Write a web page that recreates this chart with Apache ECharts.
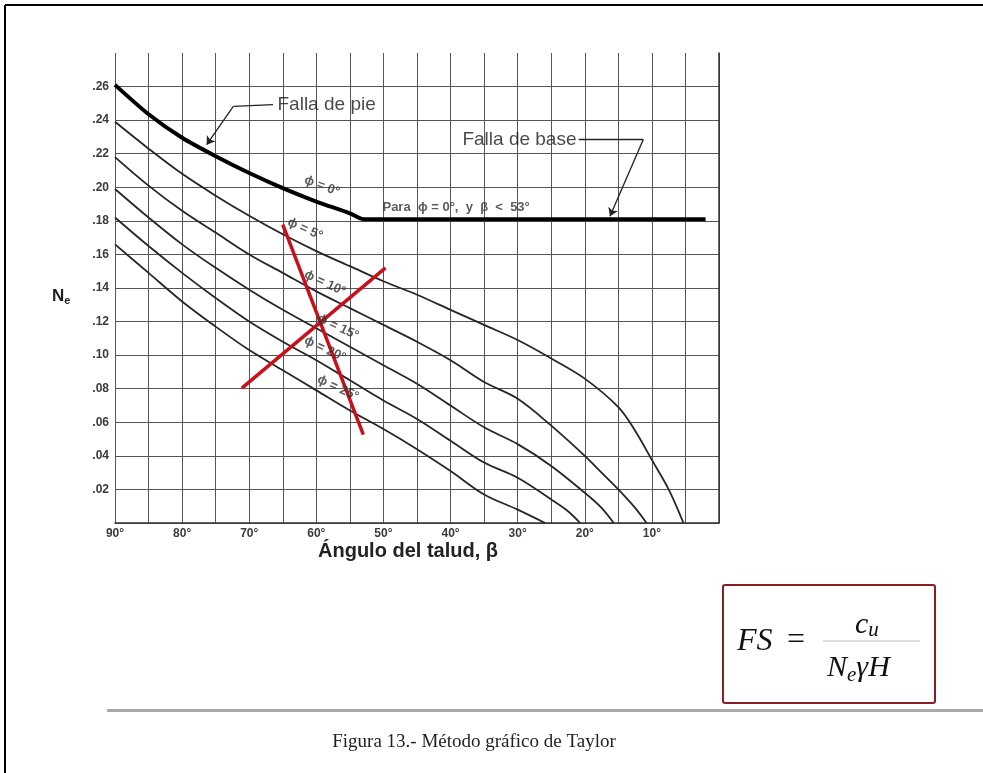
<!DOCTYPE html>
<html>
<head>
<meta charset="utf-8">
<script src="https://cdn.jsdelivr.net/npm/echarts@6/dist/echarts.min.js"></script>
<style>
html,body{margin:0;padding:0;background:#fff;}
#c{width:983px;height:773px;}
</style>
</head>
<body>
<div id="c"></div>
<script>
// ---- Data (β in degrees, N_e stability number) ----
const betaPhi0 = [90, 85, 80, 75, 70, 65, 60, 55, 53, 50, 30, 15, 2];
const nPhi0    = [0.261, 0.2435, 0.2295, 0.2185, 0.2085, 0.1995, 0.1915, 0.1845, 0.181, 0.181, 0.181, 0.181, 0.181];

const betaPhi5 = [90, 85, 80, 75, 70, 65, 60, 55, 50, 45, 40, 35, 30, 25, 20, 15, 12.5, 10, 7.5, 5.3];
const nPhi5    = [0.239, 0.223, 0.208, 0.195, 0.183, 0.172, 0.162, 0.153, 0.144, 0.136, 0.127, 0.118, 0.109, 0.098, 0.086, 0.069, 0.055, 0.0376, 0.020, 0];

const betaPhi10 = [90, 85, 80, 75, 70, 65, 60, 55, 50, 45, 40, 35, 30, 25, 20, 17.5, 15, 12.5, 10.8];
const nPhi10    = [0.218, 0.201, 0.186, 0.173, 0.160, 0.149, 0.138, 0.128, 0.118, 0.108, 0.097, 0.084, 0.074, 0.058, 0.040, 0.030, 0.020, 0.009, 0];

const betaPhi15 = [90, 85, 80, 75, 70, 65, 60, 55, 50, 45, 40, 35, 30, 25, 20, 17.5, 15.7];
const nPhi15    = [0.199, 0.182, 0.166, 0.152, 0.139, 0.127, 0.116, 0.105, 0.094, 0.083, 0.070, 0.057, 0.047, 0.034, 0.018, 0.009, 0];

const betaPhi20 = [90, 85, 80, 75, 70, 65, 60, 55, 50, 45, 40, 35, 30, 25, 22.5, 20.7];
const nPhi20    = [0.182, 0.165, 0.149, 0.134, 0.120, 0.108, 0.097, 0.085, 0.073, 0.062, 0.049, 0.036, 0.027, 0.014, 0.007, 0];

const betaPhi25 = [90, 85, 80, 75, 70, 65, 60, 55, 50, 45, 40, 35, 30, 25.9];
const nPhi25    = [0.166, 0.149, 0.132, 0.117, 0.103, 0.091, 0.079, 0.067, 0.056, 0.044, 0.031, 0.017, 0.008, 0];

// red construction lines
const redDescBeta = [65.0, 53.0];
const redDescN    = [0.1777, 0.0527];
const redRiseBeta = [71.1, 49.7];
const redRiseN    = [0.0804, 0.1520];

// annotation leaders (β, N): plain part, then arrow part
const pieLeaderBeta  = [66.46, 72.37, 76.34];
const pieLeaderN     = [0.2493, 0.2482, 0.2254];
const baseLeaderBeta = [20.9, 11.28, 16.24];
const baseLeaderN    = [0.2284, 0.2284, 0.1827];

// curve labels
const phiLabels    = ['ϕ = 0°', 'ϕ = 5°', 'ϕ = 10°', 'ϕ = 15°', 'ϕ = 20°', 'ϕ = 25°'];
const phiLabelBeta = [59.16, 61.69, 58.71, 56.77, 58.71, 56.77];
const phiLabelN    = [0.2008, 0.1751, 0.1429, 0.1167, 0.1036, 0.0803];
const phiLabelRot  = [-21, -24, -25, -25, -25, -25];

// tick labels
const xTickLabels = ['10°', '20°', '30°', '40°', '50°', '60°', '70°', '80°', '90°'];
const yTickLabels = ['.02', '.04', '.06', '.08', '.10', '.12', '.14', '.16', '.18', '.20', '.22', '.24', '.26'];

const zip = (a, b) => a.map((v, i) => [v, b[i]]);

const chart = echarts.init(document.getElementById('c'), null, {renderer: 'canvas'});

const thin = (b, n) => ({
  type: 'line', data: zip(b, n), smooth: 0.35, symbol: 'none',
  lineStyle: {color: '#262626', width: 1.8}, silent: true, z: 3
});

const yGridColors = [];
for (let i = 0; i < 15; i++) yGridColors.push(i === 14 ? 'rgba(0,0,0,0)' : '#555');

const pie = zip(pieLeaderBeta, pieLeaderN);
const base = zip(baseLeaderBeta, baseLeaderN);

const option = {
  animation: false,
  backgroundColor: '#fff',
  grid: {left: 115, right: 264, top: 53, bottom: 250, containLabel: false},
  xAxis: {
    type: 'value', min: 0, max: 90, interval: 5, inverse: true,
    axisLine: {show: true, onZero: false, lineStyle: {color: '#333', width: 1.5}},
    axisTick: {show: false},
    splitLine: {show: true, lineStyle: {color: '#555', width: 1}},
    axisLabel: {
      margin: 5, color: '#3a3a3a', fontSize: 12, fontWeight: 'bold', fontFamily: 'Liberation Sans',
      formatter: v => { const s = Math.round(v) + '°'; return xTickLabels.indexOf(s) >= 0 ? s : ''; }
    }
  },
  yAxis: {
    type: 'value', min: 0, max: 0.28, interval: 0.02,
    axisLine: {show: true, lineStyle: {color: '#333', width: 1.5}},
    axisTick: {show: false},
    splitLine: {show: true, lineStyle: {color: yGridColors, width: 1}},
    axisLabel: {
      margin: 6, color: '#3a3a3a', fontSize: 12, fontWeight: 'bold', fontFamily: 'Liberation Sans',
      formatter: v => { const k = Math.round(v * 100); const s = '.' + String(k).padStart(2, '0'); return yTickLabels.indexOf(s) >= 0 ? s : ''; }
    }
  },
  series: [
    {type: 'line', data: zip(betaPhi0, nPhi0), smooth: 0.25, symbol: 'none',
     lineStyle: {color: '#000', width: 4}, silent: true, z: 4},
    thin(betaPhi5, nPhi5), thin(betaPhi10, nPhi10), thin(betaPhi15, nPhi15),
    thin(betaPhi20, nPhi20), thin(betaPhi25, nPhi25),
    {type: 'line', data: zip(redDescBeta, redDescN), symbol: 'none', lineStyle: {color: '#c8101a', width: 3.5}, silent: true, z: 5},
    {type: 'line', data: zip(redRiseBeta, redRiseN), symbol: 'none', lineStyle: {color: '#c8101a', width: 3.5}, silent: true, z: 5},
    {type: 'lines', coordinateSystem: 'cartesian2d', silent: true, z: 6,
     symbol: 'none', lineStyle: {color: '#222', width: 1.3, opacity: 1},
     data: [{coords: [pie[0], pie[1]]}, {coords: [base[0], base[1]]}]},
    {type: 'lines', coordinateSystem: 'cartesian2d', silent: true, z: 6,
     symbol: ['none', 'arrow'], symbolSize: 8,
     lineStyle: {color: '#222', width: 1.3, opacity: 1},
     data: [{coords: [pie[1], pie[2]]}, {coords: [base[1], base[2]]}]},
    {type: 'scatter', symbolSize: 1, itemStyle: {color: 'rgba(0,0,0,0)'}, silent: true, z: 7,
     data: phiLabels.map((t, i) => ({
       value: [phiLabelBeta[i], phiLabelN[i]],
       label: {show: true, formatter: t, position: 'inside', rotate: phiLabelRot[i],
               color: '#333', fontSize: 13, fontWeight: 'bold', fontFamily: 'Liberation Sans'}
     }))},
    {type: 'scatter', symbolSize: 1, itemStyle: {color: 'rgba(0,0,0,0)'}, silent: true, z: 7,
     data: [
       {value: [65.86, 0.2493], label: {show: true, formatter: 'Falla de pie', position: 'right', distance: 0,
         color: '#1a1a1a', fontSize: 19, fontFamily: 'Liberation Sans'}},
       {value: [21.16, 0.2284], label: {show: true, formatter: 'Falla de base', position: 'left', distance: 0,
         color: '#1a1a1a', fontSize: 19, fontFamily: 'Liberation Sans'}},
       {value: [50.22, 0.1878], label: {show: true, formatter: 'Para  ϕ = 0°,  y  β  <  53°', position: 'right', distance: 0,
         color: '#333', fontSize: 13, fontWeight: 'bold', fontFamily: 'Liberation Sans'}}
     ]}
  ],
  graphic: [
    {type: 'line', shape: {x1: 5, y1: 5, x2: 983, y2: 5}, style: {stroke: '#000', lineWidth: 2}, silent: true},
    {type: 'line', shape: {x1: 5, y1: 5, x2: 5, y2: 773}, style: {stroke: '#000', lineWidth: 2}, silent: true},
    {type: 'text', x: 52, y: 296, silent: true,
     style: {text: '{n|N}{s|e}', verticalAlign: 'middle', rich: {
       n: {fontSize: 17, fontWeight: 'bold', fontFamily: 'Liberation Sans', fill: '#222'},
       s: {fontSize: 11, fontWeight: 'bold', fontFamily: 'Liberation Sans', fill: '#222', padding: [10, 0, 0, 0]}}}},
    {type: 'text', x: 408, y: 551, silent: true,
     style: {text: 'Ángulo del talud, β', fontSize: 20, fontWeight: 'bold', fontFamily: 'Liberation Sans',
             fill: '#222', align: 'center', verticalAlign: 'middle'}},
    {type: 'rect', shape: {x: 107, y: 709, width: 876, height: 3}, style: {fill: '#a9a9a9'}, silent: true},
    {type: 'rect', shape: {x: 723, y: 585, width: 212, height: 118, r: 2}, style: {fill: '#fff', stroke: '#8b1c22', lineWidth: 2}, silent: true},
    {type: 'text', x: 737, y: 642, silent: true,
     style: {text: 'FS', fontSize: 32, fontStyle: 'italic', fontFamily: 'Liberation Serif', fill: '#111', verticalAlign: 'middle'}},
    {type: 'text', x: 787, y: 641, silent: true,
     style: {text: '=', fontSize: 32, fontFamily: 'Liberation Serif', fill: '#111', verticalAlign: 'middle'}},
    {type: 'line', shape: {x1: 823, y1: 641, x2: 920, y2: 641}, style: {stroke: '#bdbdbd', lineWidth: 1}, silent: true},
    {type: 'text', x: 855, y: 625, silent: true,
     style: {text: '{a|c}{b|u}', verticalAlign: 'middle', rich: {
       a: {fontSize: 30, fontStyle: 'italic', fontFamily: 'Liberation Serif', fill: '#111'},
       b: {fontSize: 21, fontStyle: 'italic', fontFamily: 'Liberation Serif', fill: '#111', padding: [10, 0, 0, 0]}}}},
    {type: 'text', x: 827, y: 668, silent: true,
     style: {text: '{a|N}{b|e}{a|γH}', verticalAlign: 'middle', rich: {
       a: {fontSize: 30, fontStyle: 'italic', fontFamily: 'Liberation Serif', fill: '#111'},
       b: {fontSize: 21, fontStyle: 'italic', fontFamily: 'Liberation Serif', fill: '#111', padding: [14, 0, 0, 0]}}}},
    {type: 'text', x: 474, y: 742, silent: true,
     style: {text: 'Figura 13.- Método gráfico de Taylor', fontSize: 19, fontFamily: 'Liberation Serif',
             fill: '#222', align: 'center', verticalAlign: 'middle'}}
  ]
};
chart.setOption(option);
</script>
</body>
</html>
